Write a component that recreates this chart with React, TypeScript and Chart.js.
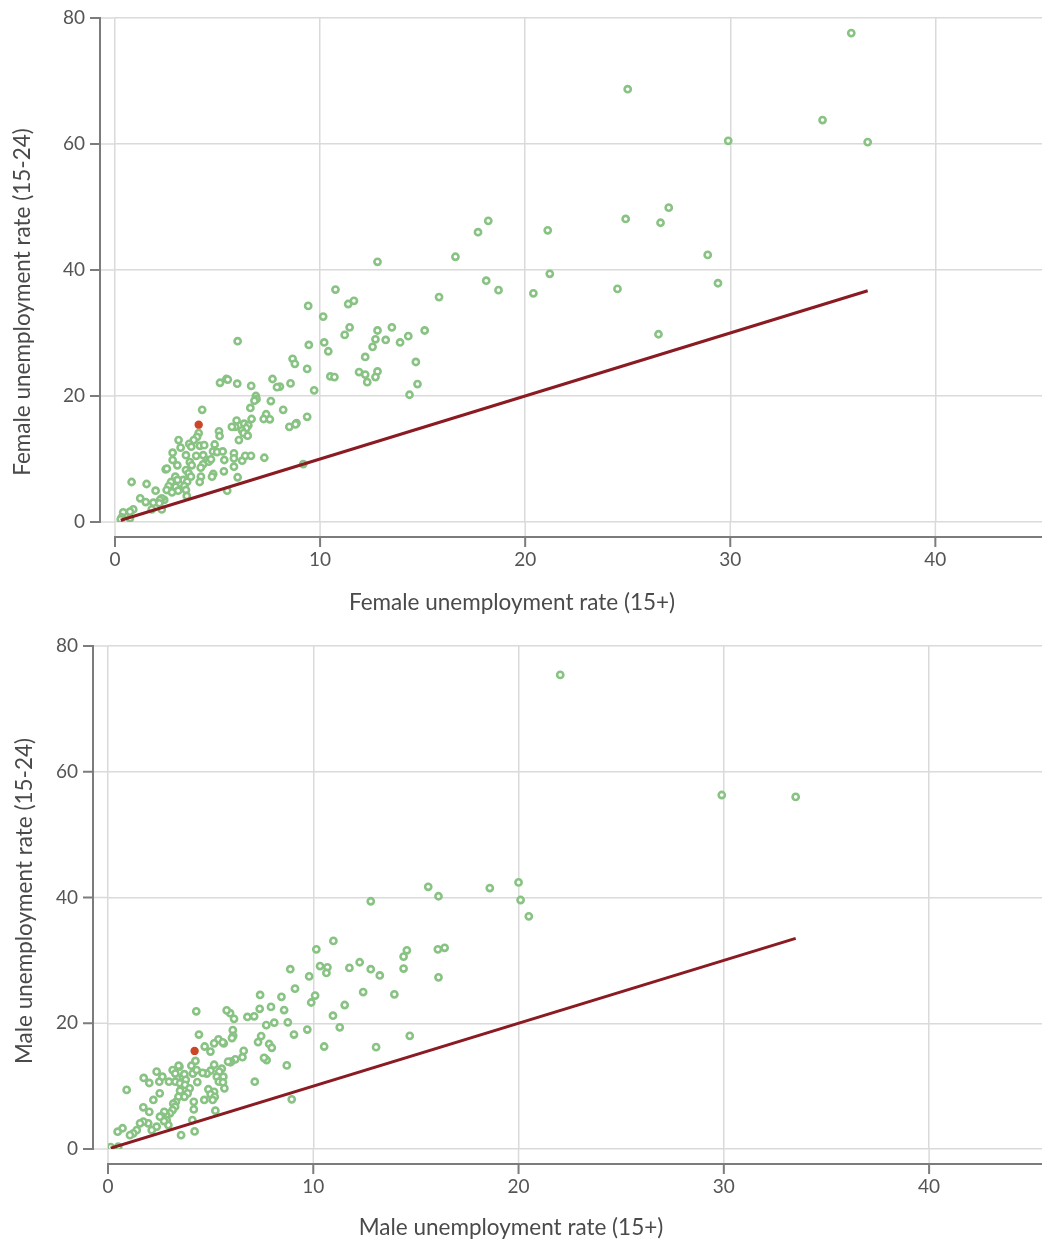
import { useEffect, useRef } from 'react';
import { Chart, registerables } from 'chart.js';

Chart.register(...registerables);

const FONT = 'Lato, "Open Sans", sans-serif';
const TEXT = '#555555';
const TITLE = '#4a4a4a';

// Female: total (15+) vs youth (15-24) unemployment rates
const femaleTotal = [
  35.9, 25.0, 34.5, 29.9, 36.7, 27.0, 24.9, 26.6, 18.2, 17.7, 21.1, 28.9, 16.6, 12.8, 21.2, 18.1, 18.7, 29.4, 24.5, 20.4, 15.8, 26.5,
  10.75, 9.42, 11.37, 11.65, 10.15, 11.44, 11.2, 12.8, 13.5, 15.1, 12.7, 13.2, 14.3, 13.9, 9.45, 10.2, 10.4, 12.56, 12.2, 8.66, 8.77,
  9.37, 14.67, 11.9, 12.2, 12.8, 12.7, 12.3, 10.5, 10.7, 8.56, 8.04, 9.71, 14.75, 14.36, 5.98, 7.68, 7.9, 5.12, 5.43, 5.5, 5.96, 6.64,
  6.87, 6.9, 6.8, 7.6, 6.6, 8.2, 4.25, 7.37, 7.25, 7.55, 6.66, 9.37, 8.5, 8.85, 8.8, 5.93, 5.86, 5.7, 6.3, 6.5, 6.4, 6.19, 6.43, 6.27,
  6.47, 5.07, 5.1, 6.04, 4.08, 4.0, 3.84, 3.62, 3.1, 3.2, 2.81, 3.46, 3.65, 3.74, 3.04, 2.81, 2.47, 2.53, 3.72, 3.96, 4.14, 4.35, 4.3,
  4.47, 4.57, 4.68, 4.86, 4.78, 4.98, 5.25, 5.33, 5.8, 5.8, 6.2, 6.35, 6.63, 7.28, 5.8, 5.31, 4.79, 4.73, 4.29, 4.18, 4.19, 5.98, 4.13,
  3.46, 3.59, 3.7, 3.33, 3.52, 3.38, 3.46, 3.5, 2.94, 3.05, 2.73, 2.96, 3.08, 2.62, 2.52, 2.78, 2.4, 2.28, 1.98, 1.54, 0.81, 1.23, 1.5,
  1.87, 1.79, 2.19, 2.16, 2.28, 0.89, 0.73, 0.4, 0.33, 0.28, 0.73, 5.47, 9.18,
];
const femaleYouth = [
  77.6, 68.7, 63.8, 60.5, 60.3, 49.9, 48.1, 47.5, 47.8, 46.0, 46.3, 42.4, 42.1, 41.3, 39.4, 38.3, 36.8, 37.9, 37.0, 36.3, 35.7, 29.8,
  36.9, 34.3, 34.6, 35.1, 32.6, 30.9, 29.7, 30.4, 30.9, 30.4, 29.0, 28.9, 29.5, 28.5, 28.1, 28.5, 27.1, 27.8, 26.2, 25.9, 25.1,
  24.3, 25.4, 23.8, 23.4, 23.9, 23.0, 22.2, 23.1, 23.0, 22.0, 21.5, 20.9, 21.9, 20.2, 28.7, 22.7, 21.4, 22.1, 22.7, 22.6, 21.95, 21.6,
  20.0, 19.5, 19.25, 19.2, 18.1, 17.8, 17.8, 17.1, 16.35, 16.3, 16.35, 16.7, 15.1, 15.7, 15.5, 16.1, 15.1, 15.1, 15.6, 15.35, 14.9, 14.55, 13.8, 14.1,
  13.7, 14.4, 13.65, 13.0, 14.1, 13.5, 13.0, 12.4, 13.0, 11.8, 11.0, 10.6, 9.5, 9.0, 9.0, 9.84, 8.37, 8.46, 11.95, 10.5, 12.1, 12.2, 10.6,
  9.84, 9.57, 9.95, 12.3, 11.2, 11.1, 11.2, 9.84, 10.9, 10.1, 9.73, 10.5, 10.5, 10.2, 8.78, 8.05, 7.62, 7.2, 9.16, 8.63, 7.2, 7.1, 6.35,
  8.25, 7.73, 7.2, 6.67, 6.4, 5.7, 5.08, 4.13, 7.2, 6.67, 6.35, 5.6, 4.97, 5.71, 5.08, 4.71, 3.5, 3.76, 4.97, 6.03, 6.35, 3.76, 3.17,
  3.06, 2.0, 3.49, 2.97, 2.0, 2.0, 1.63, 1.54, 0.75, 0.43, 0.59, 4.97, 9.2,
];
const femaleHighlight = [4.08, 15.45];

// Male: total (15+) vs youth (15-24) unemployment rates
const maleTotal = [
  22.03, 29.9, 33.5, 15.6, 18.6, 20.0, 16.1, 20.1, 12.8, 20.5, 16.4, 16.07, 14.56, 14.4, 14.4, 16.1, 14.7, 10.98, 10.15, 8.88, 10.33,
  10.69, 10.64, 9.8, 11.76, 12.26, 12.8, 13.24, 9.11, 12.43, 13.95, 7.41, 8.45, 10.09, 9.9, 11.53, 7.39, 7.94, 8.58, 6.79, 7.12, 10.96,
  7.71, 8.1, 8.76, 9.71, 11.29, 6.08, 6.1, 7.46, 7.31, 9.06, 7.85, 7.98, 10.53, 13.06, 6.61, 6.55, 6.2, 6.0, 7.65, 7.73, 7.6, 8.71, 7.15,
  5.95, 6.14, 4.3, 5.78, 4.43, 6.04, 5.64, 5.38, 5.59, 5.17, 8.95, 4.71, 4.99, 5.96, 5.85, 4.26, 4.06, 4.13, 4.35, 4.32, 5.17, 5.0, 4.81,
  4.61, 5.54, 5.42, 5.62, 5.3, 5.4, 5.6, 4.89, 5.17, 5.0, 4.69, 5.2, 5.1, 5.67, 4.18, 4.18, 5.23, 4.22, 3.56, 4.11, 3.28, 3.51, 3.48,
  3.64, 3.72, 3.79, 3.75, 3.98, 3.88, 3.72, 3.51, 3.43, 3.31, 3.18, 3.27, 3.15, 3.02, 2.84, 2.74, 2.65, 2.86, 2.94, 2.73, 2.53, 2.37,
  2.13, 1.96, 1.72, 1.56, 1.4, 1.23, 1.07, 0.71, 0.47, 0.13, 0.5, 2.5, 2.65, 2.97, 2.37, 2.01, 1.74, 2.52, 2.21, 1.72, 2.01, 3.15, 3.28,
  3.44, 0.91,
];
const maleYouth = [
  75.4, 56.3, 56.0, 41.7, 41.5, 42.4, 40.2, 39.6, 39.4, 37.0, 32.0, 31.75, 31.6, 30.6, 28.7, 27.3, 18.0, 33.1, 31.75, 28.6, 29.1,
  28.9, 28.0, 27.45, 28.8, 29.7, 28.6, 27.6, 25.5, 24.96, 24.6, 24.5, 24.2, 24.4, 23.3, 22.9, 22.3, 22.6, 22.1, 21.0, 21.1, 21.2,
  19.7, 20.1, 20.15, 19.0, 19.35, 18.9, 18.0, 17.96, 17.0, 18.2, 16.7, 16.1, 16.3, 16.2, 15.6, 14.6, 14.26, 13.9, 14.36, 14.15, 14.5, 13.3, 10.7,
  21.6, 20.7, 21.9, 22.05, 18.2, 17.65, 16.8, 17.44, 16.96, 16.8, 7.9, 16.3, 15.5, 13.8, 13.9, 14.0, 13.24, 12.0, 10.65, 12.56, 13.4, 12.45, 12.0,
  12.1, 12.77, 12.3, 11.5, 11.5, 10.7, 10.6, 9.5, 9.1, 8.7, 7.8, 8.3, 7.8, 9.65, 7.5, 6.3, 6.1, 2.8, 2.2, 4.6, 10.7, 10.45, 13.1,
  11.5, 11.9, 11.0, 10.2, 9.65, 8.85, 8.3, 9.27, 8.3, 7.5, 7.2, 6.73, 6.2, 5.67, 5.4, 5.9, 5.14, 4.6, 3.8, 4.45, 5.14, 3.55,
  3.0, 4.08, 4.35, 4.08, 3.0, 2.5, 2.2, 3.3, 2.75, 0.3, 0.37, 10.7, 11.5, 10.7, 12.3, 10.5, 11.3, 8.85, 7.8, 6.63, 5.9, 12.56, 12.0,
  13.25, 9.4,
];
const maleHighlight = [4.22, 15.6];

const xTickStep = 10;
const yTickStep = 20;
const yMax = 80;

const offsetAxes = {
  id: 'offsetAxes',
  beforeDatasetsDraw(chart: any, _args: any, opts: any) {
    const { ctx, chartArea, scales } = chart;
    const xs = scales.x;
    const ys = scales.y;
    const gap = 15;
    const tick = 10;
    const ax = chartArea.left - gap;
    const ay = chartArea.bottom + gap;
    const yTicks = ys.ticks.map((t: any) => ys.getPixelForValue(t.value));
    const xTicks = xs.ticks.map((t: any) => xs.getPixelForValue(t.value));
    ctx.save();
    ctx.strokeStyle = '#dadada';
    ctx.lineWidth = 1.5;
    ctx.beginPath();
    yTicks.forEach((py: number) => {
      ctx.moveTo(ax, py);
      ctx.lineTo(chartArea.left, py);
    });
    xTicks.forEach((px: number) => {
      ctx.moveTo(px, chartArea.bottom);
      ctx.lineTo(px, ay);
    });
    ctx.stroke();
    ctx.strokeStyle = '#7c7c7c';
    ctx.lineWidth = 2;
    const yTop = Math.min(...yTicks);
    const yBot = Math.max(...yTicks);
    ctx.beginPath();
    ctx.moveTo(ax - tick, yTop);
    ctx.lineTo(ax, yTop);
    ctx.lineTo(ax, yBot);
    ctx.lineTo(ax - tick, yBot);
    yTicks.forEach((py: number) => {
      ctx.moveTo(ax - tick, py);
      ctx.lineTo(ax, py);
    });
    const x0 = Math.min(...xTicks);
    ctx.moveTo(x0, ay + tick);
    ctx.lineTo(x0, ay);
    ctx.lineTo(chart.width, ay);
    xTicks.forEach((px: number) => {
      ctx.moveTo(px, ay);
      ctx.lineTo(px, ay + tick);
    });
    ctx.stroke();

    // axis titles
    ctx.fillStyle = TITLE;
    ctx.font = `22.5px ${FONT}`;
    ctx.textAlign = 'center';
    ctx.textBaseline = 'middle';
    ctx.fillText(opts.xTitle, opts.xTitleX, opts.xTitleY);
    ctx.translate(opts.yTitleX, opts.yTitleY);
    ctx.rotate(-Math.PI / 2);
    ctx.fillText(opts.yTitle, 0, 0);
    ctx.restore();
  },
};

type PanelProps = {
  xs: number[];
  ys: number[];
  hl: number[];
  xMax: number;
  xTitle: string;
  yTitle: string;
  height: number;
  padTop: number;
  yWidth: number;
  xHeight: number;
  xTitleX: number;
  xTitleY: number;
  yTitleX: number;
  yTitleY: number;
};

function ScatterPanel(p: PanelProps) {
  const ref = useRef<HTMLCanvasElement | null>(null);
  useEffect(() => {
    if (!ref.current) return;
    const pts = p.xs.map((x, i) => ({ x, y: p.ys[i] }));
    const minX = Math.min(...p.xs);
    const maxX = Math.max(...p.xs);
    const chart = new Chart(ref.current, {
      type: 'scatter',
      data: {
        datasets: [
          {
            label: 'highlight',
            data: [{ x: p.hl[0], y: p.hl[1] }],
            pointRadius: 4.2,
            pointBackgroundColor: '#cc4527',
            pointBorderColor: '#cc4527',
            pointBorderWidth: 0,
            order: 0,
          } as any,
          {
            type: 'line',
            label: 'parity',
            data: [
              { x: minX, y: minX },
              { x: maxX, y: maxX },
            ],
            borderColor: '#8a1b22',
            borderWidth: 3,
            pointRadius: 0,
            fill: false,
            order: 1,
          } as any,
          {
            label: 'countries',
            data: pts,
            pointRadius: 3.1,
            pointBorderWidth: 2.6,
            pointBorderColor: '#88c383',
            pointBackgroundColor: '#ffffff',
            order: 2,
          } as any,
        ],
      },
      options: {
        animation: false,
        responsive: false,
        devicePixelRatio: 1,
        layout: { autoPadding: false, padding: { top: p.padTop, right: 0, left: 0, bottom: 0 } },
        plugins: {
          legend: { display: false },
          tooltip: { enabled: false },
          offsetAxes: {
            xTitle: p.xTitle,
            yTitle: p.yTitle,
            xTitleX: p.xTitleX,
            xTitleY: p.xTitleY,
            yTitleX: p.yTitleX,
            yTitleY: p.yTitleY,
          },
        },
        scales: {
          x: {
            type: 'linear',
            min: 0,
            max: p.xMax,
            ticks: {
              stepSize: xTickStep,
              includeBounds: false,
              padding: 26,
              color: TEXT,
              font: { family: FONT, size: 19 },
            },
            grid: { color: '#dadada', lineWidth: 1.5, drawTicks: false },
            border: { display: false },
            title: { display: false },
            afterFit: (s: any) => {
              s.height = p.xHeight;
              s.paddingLeft = 0;
              s.paddingRight = 0;
            },
          },
          y: {
            type: 'linear',
            min: 0,
            max: yMax,
            ticks: {
              stepSize: yTickStep,
              padding: 30,
              color: TEXT,
              font: { family: FONT, size: 19 },
            },
            grid: { color: '#dadada', lineWidth: 1.5, drawTicks: false },
            border: { display: false },
            title: { display: false },
            afterFit: (s: any) => {
              s.width = p.yWidth;
              s.paddingTop = 0;
              s.paddingBottom = 0;
            },
          },
        },
      } as any,
      plugins: [offsetAxes],
    });
    return () => chart.destroy();
  }, []);
  return <canvas ref={ref} width={1042} height={p.height} style={{ display: 'block' }} />;
}

export default function App() {
  return (
    <div style={{ position: 'absolute', left: 0, top: 0, width: 1042, background: '#fff' }}>
      <ScatterPanel
        xs={femaleTotal}
        ys={femaleYouth}
        hl={femaleHighlight}
        xMax={45.2}
        xTitle="Female unemployment rate (15+)"
        yTitle="Female unemployment rate (15-24)"
        height={620}
        padTop={18}
        yWidth={115}
        xHeight={98}
        xTitleX={512}
        xTitleY={603}
        yTitleX={23}
        yTitleY={302}
      />
      <ScatterPanel
        xs={maleTotal}
        ys={maleYouth}
        hl={maleHighlight}
        xMax={45.5}
        xTitle="Male unemployment rate (15+)"
        yTitle="Male unemployment rate (15-24)"
        height={623}
        padTop={26}
        yWidth={108}
        xHeight={94}
        xTitleX={511}
        xTitleY={608}
        yTitleX={25}
        yTitleY={281}
      />
    </div>
  );
}
